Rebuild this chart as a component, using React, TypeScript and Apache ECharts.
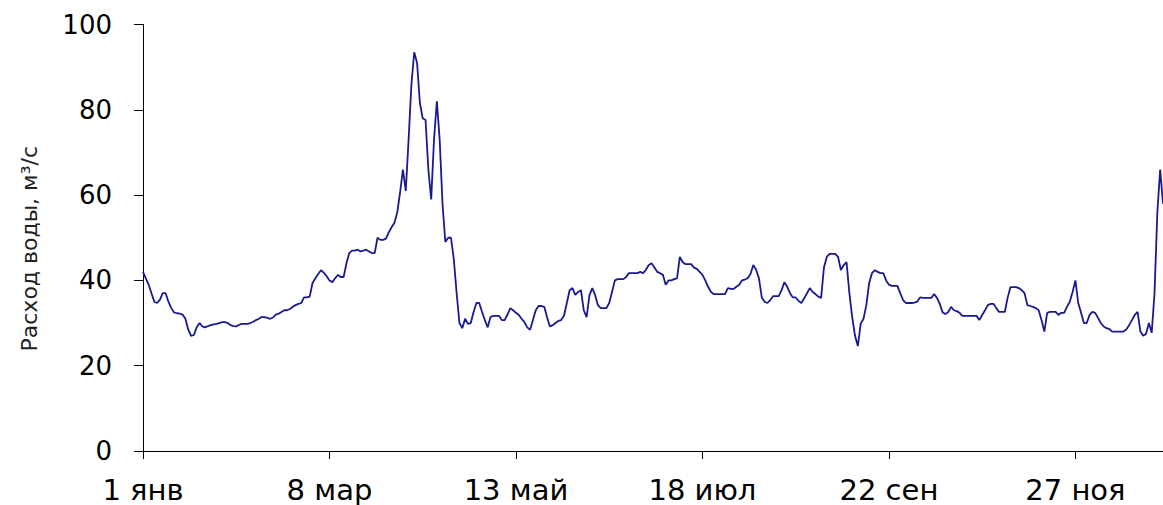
import React, { useEffect, useRef } from "react";
import * as echarts from "echarts";

// Daily water discharge, m³/s, day 0 = 1 January
const flowValues: number[] = [
  42, 40.5, 39, 37, 35, 34.7, 35.5, 37, 37, 35,
  33.5, 32.5, 32.3, 32.2, 32, 31, 28.5, 27, 27.2, 29,
  30, 29.2, 29, 29.3, 29.5, 29.7, 29.8, 30, 30.2, 30.2,
  30, 29.5, 29.3, 29.2, 29.6, 29.8, 29.8, 29.8, 30, 30.3,
  30.7, 31, 31.4, 31.4, 31.2, 31, 31.3, 32, 32.2, 32.6,
  33, 33, 33.3, 33.8, 34.2, 34.5, 34.7, 36, 36, 36.2,
  39.4, 40.5, 41.5, 42.4, 41.8, 41, 40, 39.6, 40.5, 41.3,
  40.8, 40.8, 44, 46.4, 47, 47, 47.2, 46.8, 47, 47.2,
  46.8, 46.4, 46.4, 50, 49.5, 49.5, 49.8, 51.3, 52.5, 53.5,
  56, 60.7, 66, 61, 73, 86, 93.5, 91, 81.6, 78,
  77.6, 66, 59, 73, 82, 73, 58, 49, 50, 50,
  45, 37, 30, 28.8, 31, 29.8, 30, 32.6, 34.7, 34.7,
  32.6, 30.7, 29, 31.4, 31.7, 31.7, 31.7, 30.7, 30.7, 32,
  33.5, 33, 32.4, 31.9, 31, 30.2, 29, 28.4, 30.7, 33,
  34, 34, 33.8, 31.4, 29.2, 29.5, 30, 30.5, 30.7, 31.7,
  34.7, 37.7, 38.2, 36.6, 37.3, 37.7, 33, 31.4, 36.5, 38.2,
  36.6, 34.2, 33.5, 33.5, 33.5, 34.7, 37.3, 40, 40.3, 40.3,
  40.3, 40.8, 41.7, 41.7, 41.7, 41.7, 42, 41.7, 42.5, 43.6,
  44, 43, 42, 41.7, 41.3, 39, 40, 40, 40.3, 40.5,
  45.5, 44.3, 43.8, 43.8, 43.8, 43, 42.7, 42, 41.3, 40,
  38.5, 37.3, 36.8, 36.8, 36.8, 36.8, 36.8, 38.2, 38, 38,
  38.5, 39, 40, 40.2, 40.5, 41.5, 43.6, 42.5, 40.5, 36,
  35, 34.7, 35.4, 36.3, 36.3, 36.3, 37.7, 39.6, 38.5, 37,
  36, 36, 35.2, 34.7, 35.8, 37, 38.2, 37.3, 36.8, 36.2,
  35.9, 43, 45.5, 46.2, 46.2, 46.2, 45.5, 42.4, 43.6, 44.3,
  37, 31.4, 27, 24.6, 29.8, 31, 34.2, 39.4, 41.7, 42.4,
  42, 41.7, 41.7, 40, 39, 38.7, 38.7, 38.7, 37, 35.4,
  34.7, 34.7, 34.7, 34.8, 35, 36, 35.9, 35.9, 35.9, 35.9,
  36.8, 35.9, 34.5, 32.5, 32.1, 32.6, 33.8, 33, 32.8, 32.4,
  31.7, 31.7, 31.7, 31.7, 31.7, 31.7, 30.7, 31.9, 33, 34.2,
  34.5, 34.5, 33.5, 32.6, 32.6, 32.6, 35.9, 38.4, 38.4, 38.4,
  38.2, 37.7, 37, 34.2, 34, 33.8, 33.5, 33, 30.7, 28,
  32.4, 32.6, 32.6, 32.6, 31.9, 32.4, 32.4, 33.8, 35, 37.3,
  40, 34.7, 32.4, 30, 30, 31.9, 32.6, 32.4, 31.2, 30,
  29.2, 28.8, 28.6, 28, 28, 28, 28, 28, 28.5, 29.5,
  30.7, 31.9, 32.6, 28, 27, 27.5, 30, 27.7, 37, 56,
  66, 58,
];

const xTickDays: number[] = [0, 66, 132, 198, 264, 330];
const xTickLabels: string[] = ["1 янв", "8 мар", "13 май", "18 июл", "22 сен", "27 ноя"];
const yAxisTitle = "Расход воды, м³/с";

export default function App() {
  const ref = useRef<HTMLDivElement>(null);
  useEffect(() => {
    if (!ref.current) return;
    const chart = echarts.init(ref.current, undefined, { renderer: "svg" });
    const font = "DejaVu Sans";
    chart.setOption({
      animation: false,
      backgroundColor: "#ffffff",
      grid: { left: 143, right: 0, top: 24.5, bottom: 54, containLabel: false },
      xAxis: {
        type: "value",
        min: 0,
        max: flowValues.length - 1,
        axisLine: { show: true, onZero: false, lineStyle: { color: "#000", width: 1 } },
        axisTick: {
          show: true,
          inside: false,
          length: 8,
          customValues: xTickDays,
          lineStyle: { color: "#000" },
        },
        splitLine: { show: false },
        axisLabel: {
          margin: 24,
          fontFamily: font,
          fontSize: 29,
          color: "#000",
          customValues: xTickDays,
          formatter: (v: number) => {
            const i = xTickDays.indexOf(Math.round(v));
            return i >= 0 ? xTickLabels[i] : "";
          },
        },
      },
      yAxis: {
        type: "value",
        min: 0,
        max: 100,
        interval: 20,
        name: yAxisTitle,
        nameLocation: "middle",
        nameGap: 103,
        nameTextStyle: { fontFamily: font, fontSize: 22, color: "#222", padding: [0, 22, 0, 0] },
        axisLine: { show: true, lineStyle: { color: "#000", width: 1 } },
        axisTick: { show: true, inside: false, length: 9, lineStyle: { color: "#000" } },
        splitLine: { show: false },
        axisLabel: { margin: 31, fontFamily: font, fontSize: 26, color: "#000" },
      },
      series: [
        {
          type: "line",
          data: flowValues.map((v, i) => [i, v]),
          showSymbol: false,
          symbol: "none",
          clip: true,
          lineStyle: { color: "#1a1a90", width: 1.8 },
        },
      ],
    });
    return () => chart.dispose();
  }, []);
  return (
    <div
      ref={ref}
      style={{ position: "fixed", left: 0, top: 0, width: 1163, height: 505, background: "#fff" }}
    />
  );
}
